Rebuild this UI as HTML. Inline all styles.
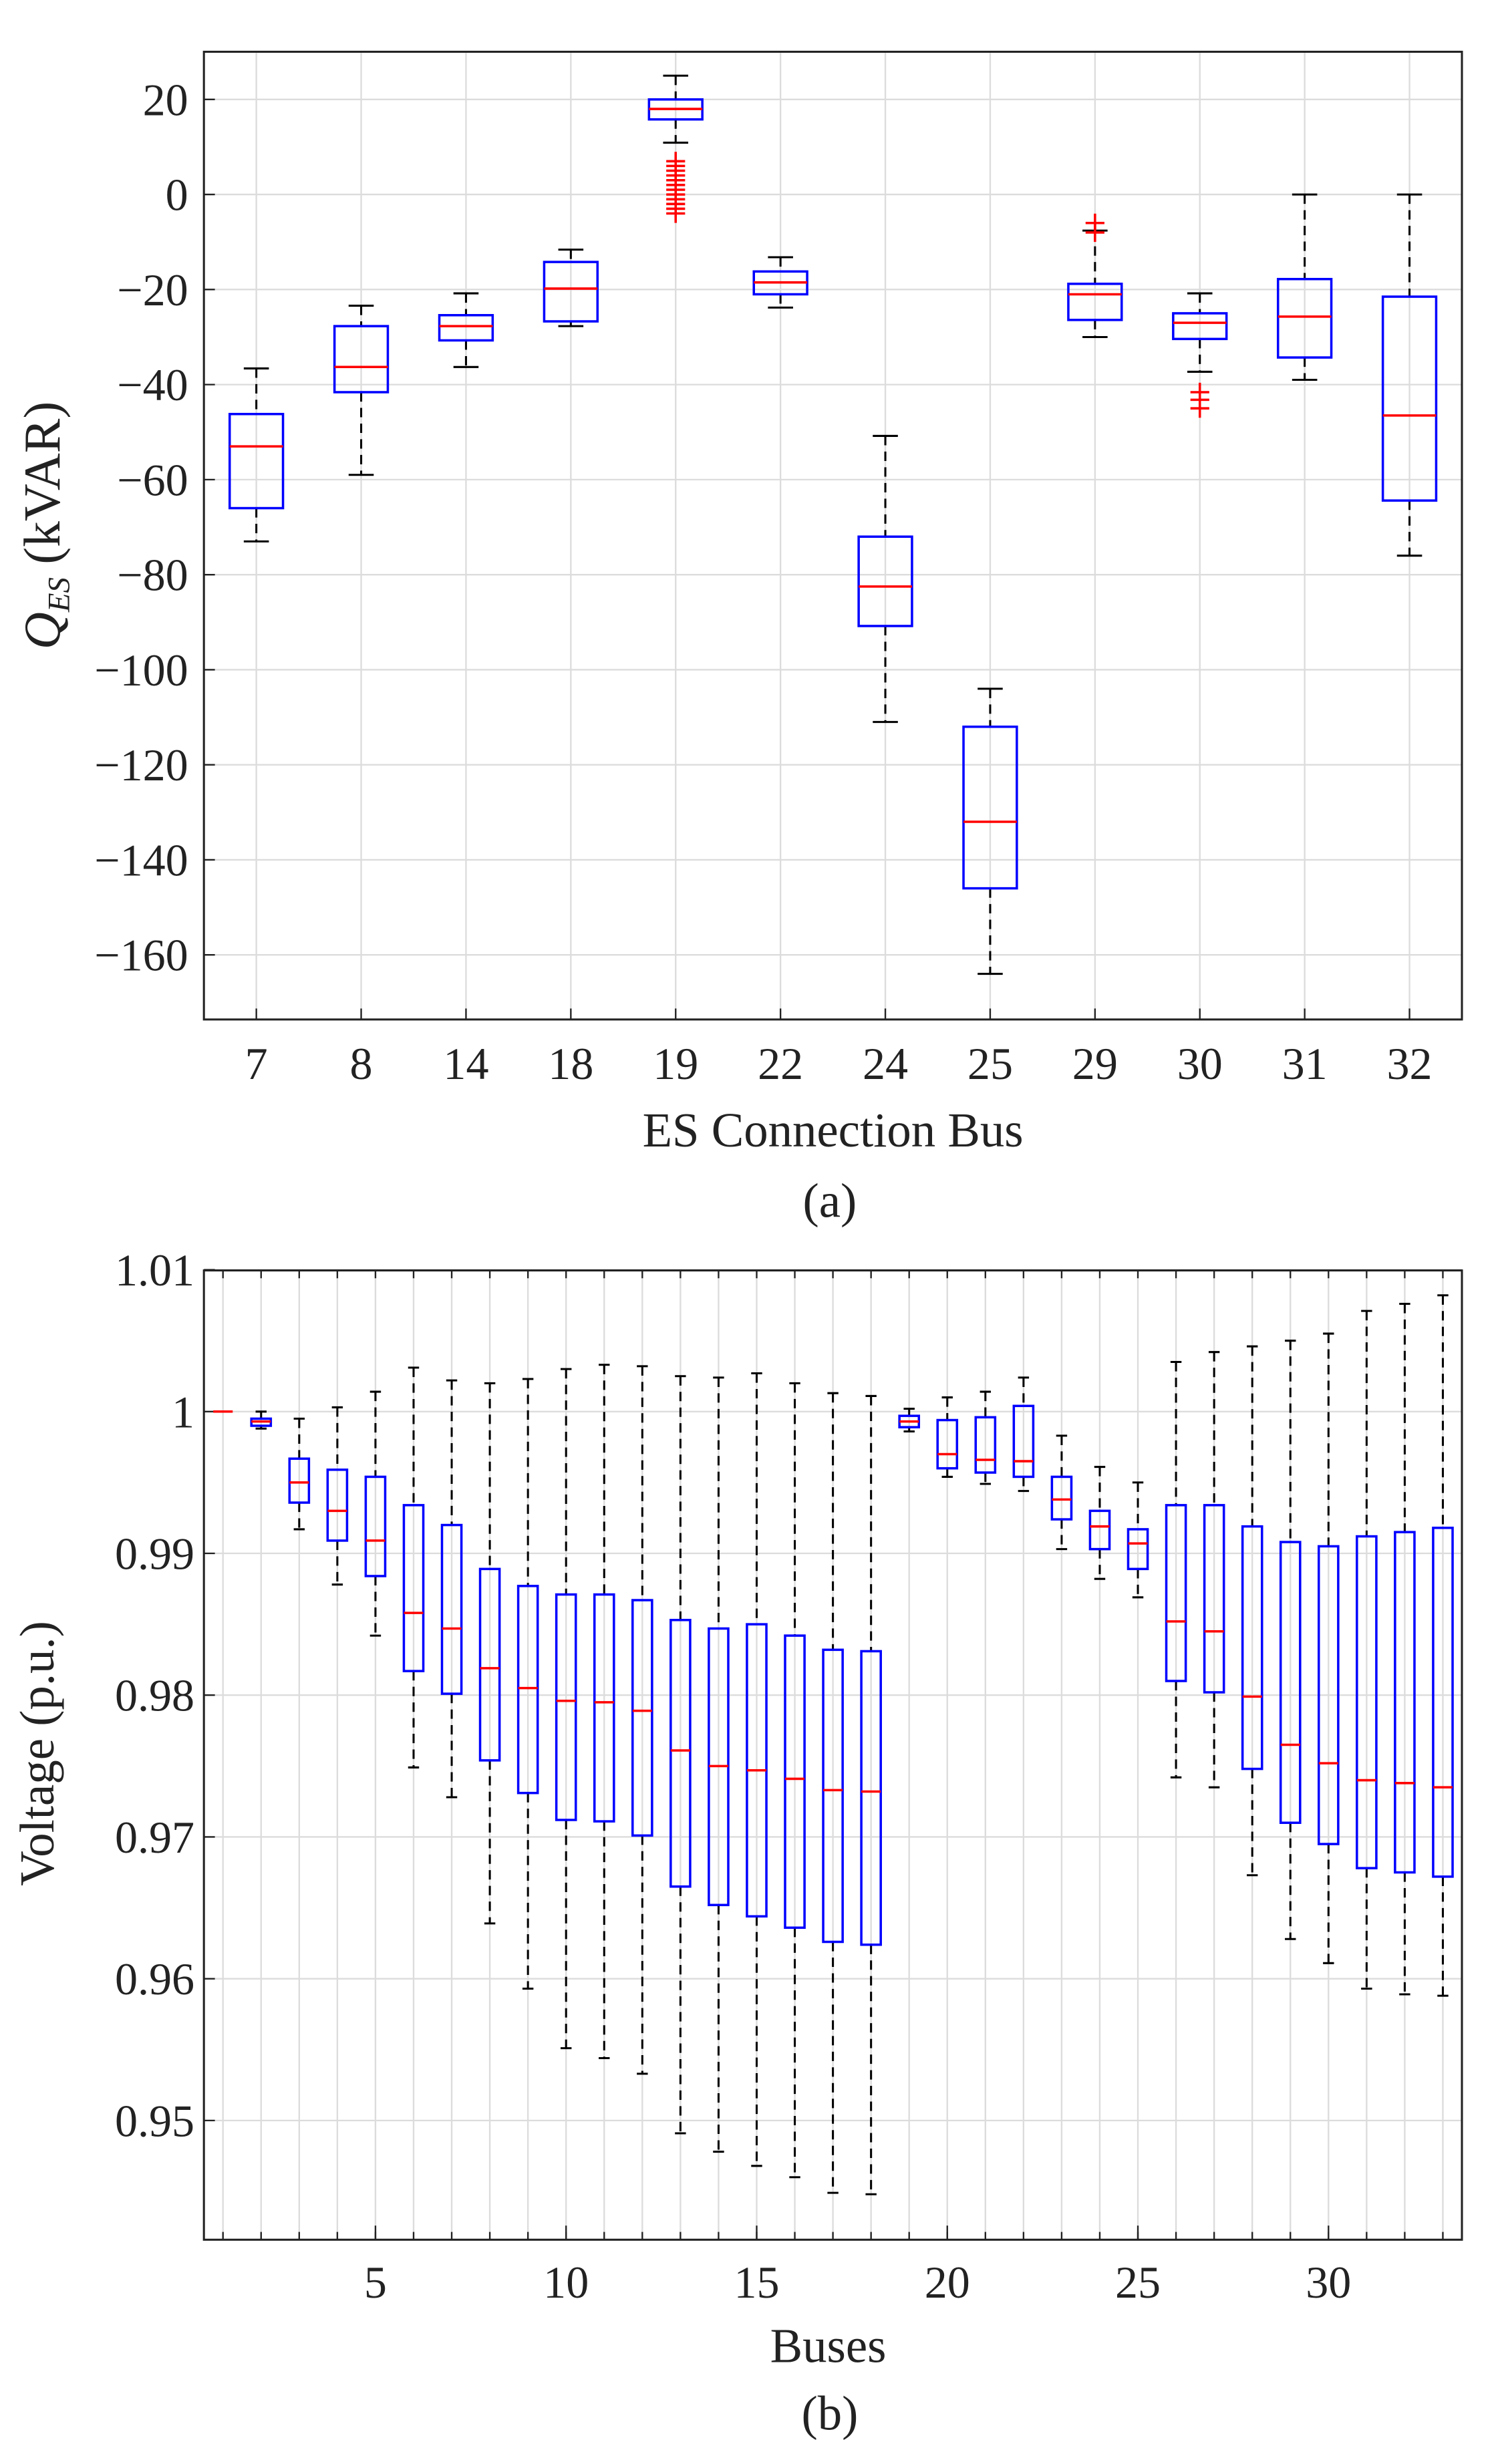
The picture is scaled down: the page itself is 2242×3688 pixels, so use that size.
<!DOCTYPE html>
<html><head><meta charset="utf-8"><style>
html,body{margin:0;padding:0;background:#fff;}
svg{display:block;font-family:"Liberation Serif",serif;}
</style></head><body>
<svg id="fig" width="2242" height="3688" viewBox="0 0 955 1571" preserveAspectRatio="none" xmlns="http://www.w3.org/2000/svg"></svg>
<script>
// ---- Chart (a) data ----
const catsA = ['7','8','14','18','19','22','24','25','29','30','31','32'];
const loA  = [-73,-59,-36.3,-27.7,10.9,-23.8,-111,-164,-30,-37.3,-39,-76];
const q1A  = [-66,-41.6,-30.7,-26.7,15.8,-21,-90.8,-146,-26.4,-30.4,-34.3,-64.4];
const medA = [-53,-36.3,-27.7,-19.8,18,-18.5,-82.5,-132,-21,-27,-25.7,-46.5];
const q3A  = [-46.2,-27.7,-25.4,-14.2,20,-16.2,-72,-112,-18.8,-25,-17.8,-21.5];
const hiA  = [-36.6,-23.4,-20.8,-11.6,25,-13.2,-50.8,-104,-7.6,-20.8,0,0];
const outCatA = [4,4,4,4,4,4,4,4,4,4,4,4,8,8,9,9,9];
const outValA = [7,6,5,4,3,2,1,0,-1,-2,-3,-4,-6,-8,-41.6,-43.2,-45];
const ticksA = [20,0,-20,-40,-60,-80,-100,-120,-140,-160];
const tickLabelsA = ['20','0','\u221220','\u221240','\u221260','\u221280','\u2212100','\u2212120','\u2212140','\u2212160'];
// ---- Chart (b) data ----
const busesB = Array.from({length:33},(_,i)=>i+1);
const loB  = [1,0.9988,0.9917,0.9878,0.9842,0.9749,0.9728,0.9639,0.9593,0.9551,0.9544,0.9533,0.9491,0.9478,0.9468,0.9460,0.9449,0.9448,0.9986,0.9954,0.9949,0.9944,0.9903,0.9882,0.9869,0.9742,0.9735,0.9673,0.9628,0.9611,0.9593,0.9589,0.9588];
const q1B  = [1,0.9990,0.99358,0.9909,0.9884,0.9817,0.9801,0.9754,0.9731,0.9712,0.9711,0.9701,0.9665,0.9652,0.9644,0.9636,0.9626,0.9624,0.9989,0.9960,0.9957,0.9954,0.9924,0.9903,0.9889,0.9810,0.9802,0.9748,0.9710,0.9695,0.9678,0.9675,0.9672];
const medB = [1,0.9993,0.9950,0.9930,0.9909,0.9858,0.9847,0.9819,0.9805,0.9796,0.9795,0.9789,0.9761,0.9750,0.9747,0.9741,0.9733,0.9732,0.9993,0.9970,0.9966,0.9965,0.9938,0.9919,0.9907,0.9852,0.9845,0.9799,0.9765,0.9752,0.9740,0.9738,0.9735];
const q3B  = [1,0.9995,0.99668,0.9959,0.9954,0.9934,0.9920,0.9889,0.9877,0.9871,0.9871,0.9867,0.9853,0.9847,0.9850,0.9842,0.9832,0.9831,0.9997,0.9994,0.9996,1.0004,0.9954,0.9930,0.9917,0.9934,0.9934,0.9919,0.9908,0.9905,0.9912,0.9915,0.9918];
const hiB  = [1,1.0000,0.9995,1.0003,1.0014,1.0031,1.0022,1.0020,1.0023,1.0030,1.0033,1.0032,1.0025,1.0024,1.0027,1.0020,1.0013,1.0011,1.0002,1.0010,1.0014,1.0024,0.9983,0.9961,0.9950,1.0035,1.0042,1.0046,1.0050,1.0055,1.0071,1.0076,1.0082];
const ticksB = [1.01,1,0.99,0.98,0.97,0.96,0.95];
const tickLabelsB = ['1.01','1','0.99','0.98','0.97','0.96','0.95'];
const xTicksB = [5,10,15,20,25,30];

const NS='http://www.w3.org/2000/svg';
const svg=document.getElementById('fig');
function mk(tag,attrs,parent){const e=document.createElementNS(NS,tag);for(const k in attrs)e.setAttribute(k,attrs[k]);(parent||svg).appendChild(e);return e;}

// ===== Chart A =====
const A={x0:130,x1:932,y0:33,y1:650};
const xA=i=>A.x0+(i+0.5)*(A.x1-A.x0)/catsA.length;
const yA=v=>124-v*3.03;
const gA=mk('g',{});


catsA.forEach((c,i)=>{
  const l=mk('line',{x1:xA(i),x2:xA(i),y1:A.y0,y2:A.y1,stroke:'#dcdcdc','stroke-width':1},gA);
  
});
ticksA.forEach((t,i)=>{
  const l=mk('line',{x1:A.x0,x2:A.x1,y1:yA(t),y2:yA(t),stroke:'#dcdcdc','stroke-width':1},gA);
  
  const tk=mk('line',{x1:A.x0,x2:A.x0+7,y1:yA(t),y2:yA(t),stroke:'#222'},gA);
  
  const tx=mk('text',{x:A.x0-10,y:yA(t)+10,'text-anchor':'end','font-size':29,fill:'#222'},gA);
  tx.textContent=tickLabelsA[i];
  
});
catsA.forEach((c,i)=>{
  const x=xA(i),w=17,cw=8;
  const tx=mk('text',{x:x,y:688,'text-anchor':'middle','font-size':29,fill:'#222'},gA);
  tx.textContent=c;
  const tk=mk('line',{x1:x,x2:x,y1:A.y1,y2:A.y1-7,stroke:'#222'},gA);
  
  const g=mk('g',{},gA);
  
  mk('line',{x1:x,x2:x,y1:yA(hiA[i]),y2:yA(q3A[i]),stroke:'#000','stroke-dasharray':'6,4','stroke-width':1.3},g);
  mk('line',{x1:x,x2:x,y1:yA(q1A[i]),y2:yA(loA[i]),stroke:'#000','stroke-dasharray':'6,4','stroke-width':1.3},g);
  mk('line',{x1:x-cw,x2:x+cw,y1:yA(hiA[i]),y2:yA(hiA[i]),stroke:'#000','stroke-width':1.3},g);
  mk('line',{x1:x-cw,x2:x+cw,y1:yA(loA[i]),y2:yA(loA[i]),stroke:'#000','stroke-width':1.3},g);
  mk('rect',{x:x-w,y:yA(q3A[i]),width:2*w,height:yA(q1A[i])-yA(q3A[i]),fill:'none',stroke:'#00f','stroke-width':1.5},g);
  mk('line',{x1:x-w,x2:x+w,y1:yA(medA[i]),y2:yA(medA[i]),stroke:'#f00','stroke-width':1.5},g);
});
outCatA.forEach((c,k)=>{
  const x=xA(c),y=yA(outValA[k]);
  const p=mk('path',{d:`M${x-6},${y}H${x+6}M${x},${y-6}V${y+6}`,stroke:'#f00','stroke-width':1.5},gA);
  
});
const frA=mk('rect',{x:A.x0,y:A.y0,width:A.x1-A.x0,height:A.y1-A.y0,fill:'none',stroke:'#222','stroke-width':1.3},gA);

let t=mk('text',{x:531,y:731,'text-anchor':'middle','font-size':31,fill:'#222'},gA);
t.textContent='ES Connection Bus';
t=mk('text',{x:529,y:776,'text-anchor':'middle','font-size':31,fill:'#222'},gA);
t.textContent='(a)';
t=mk('text',{x:0,y:0,'text-anchor':'middle','font-size':33,fill:'#222',transform:'translate(38,335) rotate(-90)'},gA);

let s1=mk('tspan',{'font-style':'italic'},t);s1.textContent='Q';
let s2=mk('tspan',{'font-style':'italic','font-size':20,dy:6},t);s2.textContent='ES';
let s3=mk('tspan',{dy:-6},t);s3.textContent='  (kVAR)';

// ===== Chart B =====
const B={x0:130,x1:932,y0:810,y1:1428};
const xB=b=>B.x0+(b-0.5)*(B.x1-B.x0)/33;
const yB=v=>900-(v-1)*9040;
const gB=mk('g',{});


busesB.forEach(b=>{
  const l=mk('line',{x1:xB(b),x2:xB(b),y1:B.y0,y2:B.y1,stroke:'#dcdcdc'},gB);
  
  const tk=mk('path',{d:`M${xB(b)},${B.y1}V${B.y1-5}M${xB(b)},${B.y0}V${B.y0+5}`,stroke:'#222'},gB);
  
});
ticksB.forEach((v,i)=>{
  const l=mk('line',{x1:B.x0,x2:B.x1,y1:yB(v),y2:yB(v),stroke:'#dcdcdc'},gB);
  
  const tk=mk('line',{x1:B.x0,x2:B.x0+7,y1:yB(v),y2:yB(v),stroke:'#222'},gB);
  
  const tx=mk('text',{x:B.x0-6,y:yB(v)+10,'text-anchor':'end','font-size':29,fill:'#222'},gB);
  tx.textContent=tickLabelsB[i];
});
xTicksB.forEach(b=>{
  const tx=mk('text',{x:xB(b),y:1465,'text-anchor':'middle','font-size':29,fill:'#222'},gB);
  tx.textContent=String(b);
  const tk=mk('line',{x1:xB(b),x2:xB(b),y1:B.y1,y2:B.y1-9,stroke:'#222'},gB);
  
});
busesB.forEach((b,i)=>{
  const x=xB(b),w=6.2,cw=3.5;
  const g=mk('g',{},gB);
  
  mk('line',{x1:x,x2:x,y1:yB(hiB[i]),y2:yB(q3B[i]),stroke:'#000','stroke-dasharray':'6,4','stroke-width':1.3},g);
  mk('line',{x1:x,x2:x,y1:yB(q1B[i]),y2:yB(loB[i]),stroke:'#000','stroke-dasharray':'6,4','stroke-width':1.3},g);
  mk('line',{x1:x-cw,x2:x+cw,y1:yB(hiB[i]),y2:yB(hiB[i]),stroke:'#000','stroke-width':1.3},g);
  mk('line',{x1:x-cw,x2:x+cw,y1:yB(loB[i]),y2:yB(loB[i]),stroke:'#000','stroke-width':1.3},g);
  if(hiB[i]-loB[i]>0)mk('rect',{x:x-w,y:yB(q3B[i]),width:2*w,height:yB(q1B[i])-yB(q3B[i]),fill:'none',stroke:'#00f','stroke-width':1.5},g);
  mk('line',{x1:x-w,x2:x+w,y1:yB(medB[i]),y2:yB(medB[i]),stroke:'#f00','stroke-width':1.5},g);
});
const frB=mk('rect',{x:B.x0,y:B.y0,width:B.x1-B.x0,height:B.y1-B.y0,fill:'none',stroke:'#222','stroke-width':1.3},gB);

t=mk('text',{x:528,y:1506,'text-anchor':'middle','font-size':31,fill:'#222'},gB);
t.textContent='Buses';
t=mk('text',{x:529,y:1549,'text-anchor':'middle','font-size':31,fill:'#222'},gB);
t.textContent='(b)';
t=mk('text',{x:0,y:0,'text-anchor':'middle','font-size':31,fill:'#222',transform:'translate(34,1118) rotate(-90)'},gB);
t.textContent='Voltage (p.u.)';
</script>
</body></html>
